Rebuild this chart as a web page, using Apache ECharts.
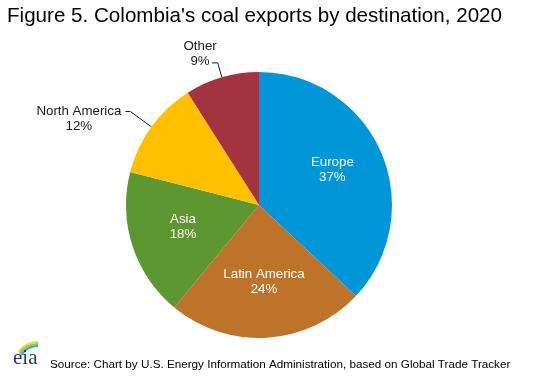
<!DOCTYPE html>
<html>
<head>
<meta charset="utf-8">
<script src="https://cdn.jsdelivr.net/npm/echarts@6/dist/echarts.min.js"></script>
<style>
  html, body { margin: 0; padding: 0; background: #fff; }
  #main { width: 535px; height: 376px; }
</style>
</head>
<body>
<div id="main"></div>
<script>
var titleText = "Figure 5. Colombia's coal exports by destination, 2020";
var sourceText = 'Source: Chart by U.S. Energy Information Administration, based on Global Trade Tracker';

var regions = ['Europe', 'Latin America', 'Asia', 'North America', 'Other'];
var shares = [37, 24, 18, 12, 9];
var colors = ['#0096d7', '#bd732a', '#5d9732', '#ffc000', '#a33340'];
var outsideLabels = ['North America', 'Other'];

var cx = 259, cy = 205;
var font = 'Liberation Sans, Arial, sans-serif';

var chart = echarts.init(document.getElementById('main'));

var pieData = regions.map(function (name, i) {
  var item = { name: name, value: shares[i], itemStyle: { color: colors[i] } };
  if (outsideLabels.indexOf(name) >= 0) {
    var isOther = name == 'Other';
    item.label = {
      position: 'outside',
      color: '#1a1a1a',
      formatter: '{t|{b}}\n{t|{d}%}',
      padding: isOther ? [0, 0, 18, 0] : [14, 0, 0, 0],
      distanceToLabelLine: isOther ? -5 : 4,
      rich: { t: { align: 'center', fontSize: 13.3, lineHeight: 15, fontFamily: font, color: '#1a1a1a' } }
    };
    item.labelLine = {
      show: true,
      length: isOther ? 15 : 26,
      length2: isOther ? 6 : 5,
      lineStyle: { color: '#1a1a1a', width: 1 }
    };
  }
  return item;
});

chart.setOption({
  animation: false,
  backgroundColor: '#fff',
  title: {
    text: titleText,
    left: 7,
    top: 6,
    padding: 0,
    textStyle: { fontFamily: font, fontSize: 20.6, fontWeight: 'normal', color: '#000' }
  },
  graphic: [
    {
      type: 'text', left: 50, top: 359,
      style: { text: sourceText, fontFamily: font, fontSize: 11.7, fill: '#000' }
    },
    // eia logo
    { type: 'arc', shape: { cx: 38, cy: 366, r: 24, startAngle: Math.PI * 1.2, endAngle: Math.PI * 1.5 }, style: { stroke: '#f5d33a', lineWidth: 2, fill: null } },
    { type: 'arc', shape: { cx: 38, cy: 366, r: 22, startAngle: Math.PI * 1.19, endAngle: Math.PI * 1.5 }, style: { stroke: '#8dc63f', lineWidth: 2, fill: null } },
    { type: 'arc', shape: { cx: 38, cy: 366, r: 20, startAngle: Math.PI * 1.18, endAngle: Math.PI * 1.5 }, style: { stroke: '#27a8e0', lineWidth: 2, fill: null } },
    {
      type: 'text', left: 13, top: 348,
      style: { text: 'eia', fontFamily: 'Liberation Serif, serif', fontSize: 21, fill: '#1d3b6d' }
    }
  ],
  series: [{
    type: 'pie',
    center: [cx, cy],
    radius: 133,
    startAngle: 90,
    clockwise: true,
    data: pieData,
    label: {
      position: 'inside',
      formatter: '{b}\n{d}%',
      color: '#fff',
      fontSize: 13.3,
      lineHeight: 15,
      fontFamily: font
    },
    labelLine: { show: false },
    itemStyle: { borderColor: '#fff', borderWidth: 0 },
    emphasis: { disabled: true },
    labelLayout: function (params) {
      if (params.dataIndex > 2) return {};
      var r = params.labelRect;
      var mx = r.x + r.width / 2, my = r.y + r.height / 2;
      return { x: cx + (mx - cx) * 1.15, y: cy + (my - cy) * 1.15 - 3 };
    }
  }]
});
</script>
</body>
</html>
